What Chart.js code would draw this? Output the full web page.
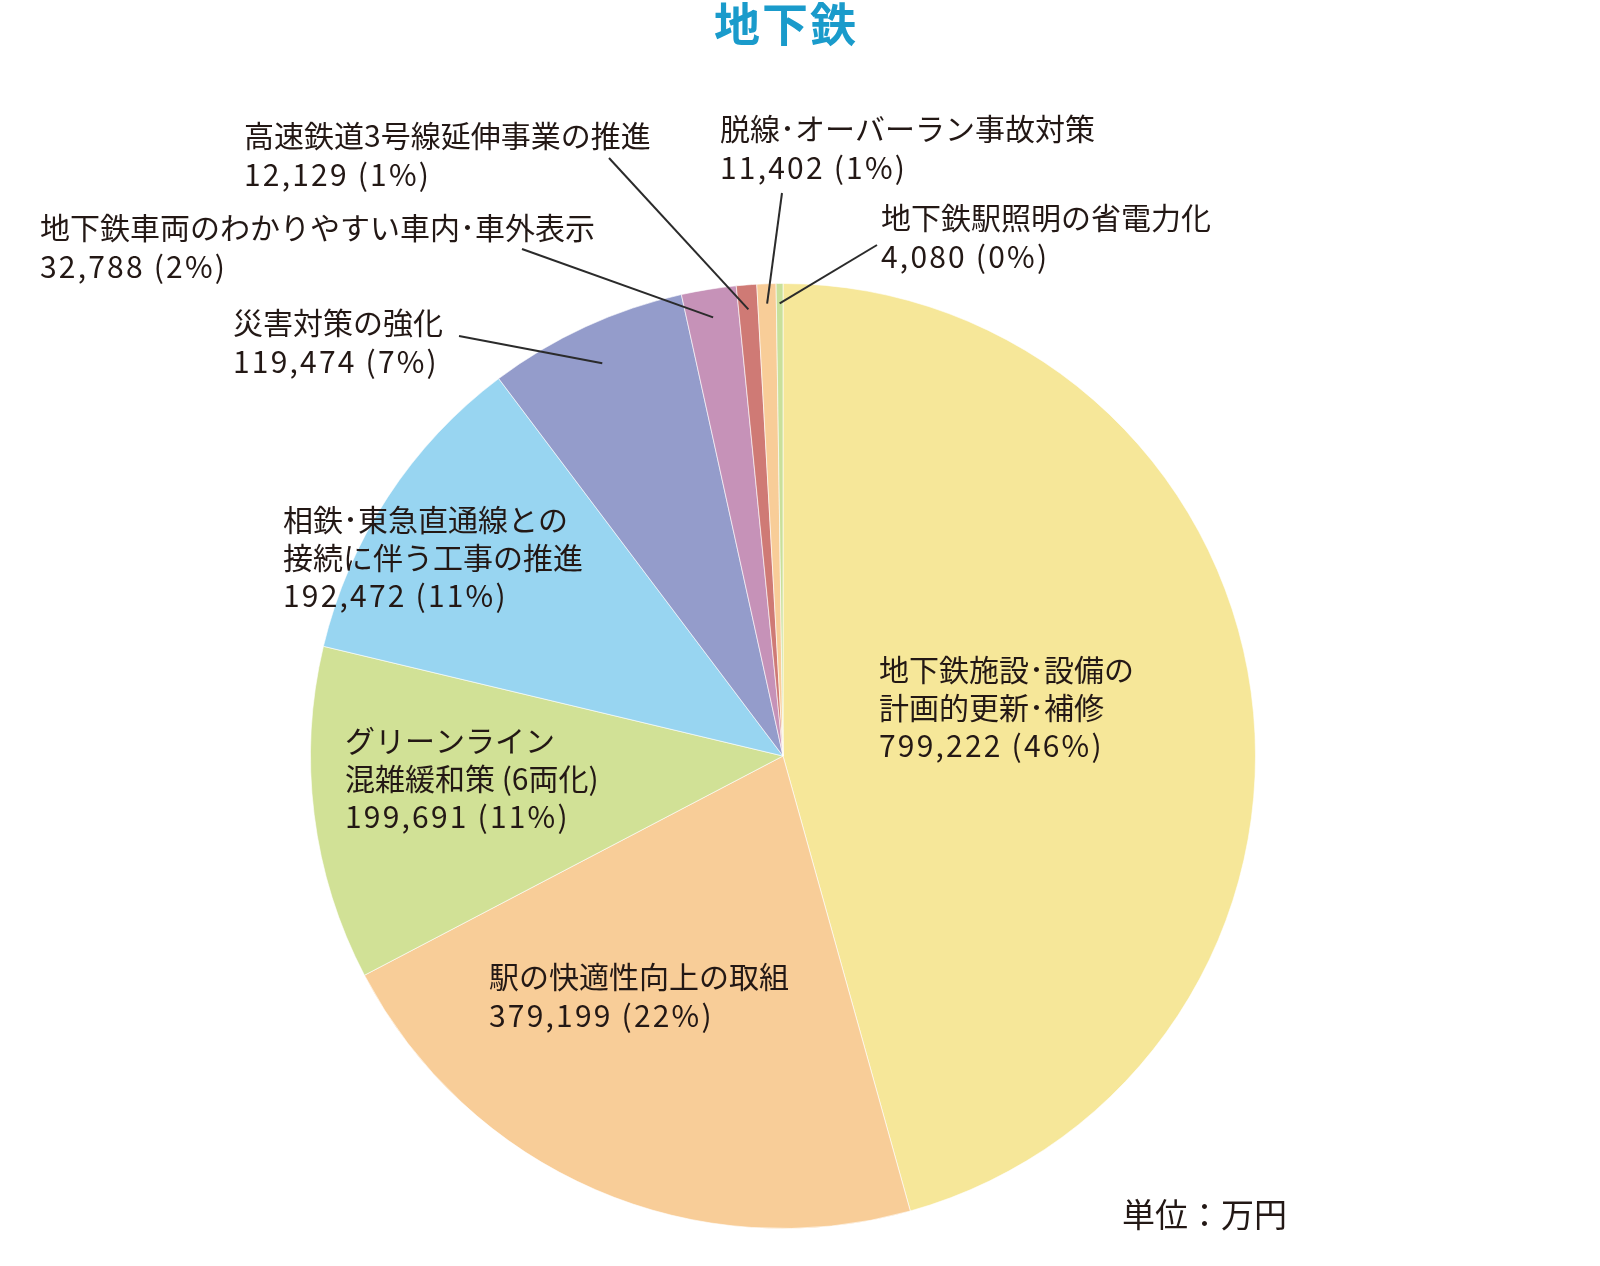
<!DOCTYPE html>
<html><head><meta charset="utf-8">
<script src="https://cdn.jsdelivr.net/npm/chart.js@4"></script>
<style>html,body{margin:0;padding:0;background:#fff;}#wrap{width:1600px;height:1266px;position:relative;}</style>
</head><body><div id="wrap"><canvas id="c" width="1600" height="1266"></canvas></div>
<script>
const categories = [
  ["地下鉄施設･設備の","計画的更新･補修"],
  ["駅の快適性向上の取組"],
  ["グリーンライン","混雑緩和策 (6両化)"],
  ["相鉄･東急直通線との","接続に伴う工事の推進"],
  ["災害対策の強化"],
  ["地下鉄車両のわかりやすい車内･車外表示"],
  ["高速鉄道3号線延伸事業の推進"],
  ["脱線･オーバーラン事故対策"],
  ["地下鉄駅照明の省電力化"]
];
const values = [799222, 379199, 199691, 192472, 119474, 32788, 12129, 11402, 4080];
const valueLabels = ["799,222","379,199","199,691","192,472","119,474","32,788","12,129","11,402","4,080"];
const percentLabels = ["46%","22%","11%","11%","7%","2%","1%","1%","0%"];
const colors = ["#F6E799","#F8CD98","#D1E196","#98D5F1","#949CCB","#C692B8","#CF7A75","#F8CD98","#C9E09A"];
const chartTitle = "地下鉄";
const unitText = "単位：万円";

// label layout: x, first line middle y, optional leader line start and radial factor for end
const labelLayout = [
  {x:879,y:670},
  {x:489,y:977},
  {x:345,y:741},
  {x:283,y:520},
  {x:233,y:323,lx:459,ly:336,rf:0.915},
  {x:40,y:228,lx:522,ly:249,rf:0.94},
  {x:244,y:136,lx:609,ly:158,rf:0.948},
  {x:720,y:129,lx:782,ly:193,rf:0.958},
  {x:881,y:218,lx:877,ly:245,rf:0.958}
];

const FONT = '"Noto Sans CJK JP", "Noto Sans", sans-serif';
const textColor = "#231815";

const labelPlugin = {
  id:'labels',
  afterDraw(chart){
    const ctx = chart.ctx;
    const meta = chart.getDatasetMeta(0);
    ctx.save();
    ctx.fillStyle = "#1A9BCB";
    ctx.font = "bold 46px " + FONT;
    ctx.letterSpacing = "2px";
    ctx.textAlign = "center";
    ctx.textBaseline = "middle";
    ctx.fillText(chartTitle, 786, 24);
    ctx.letterSpacing = "0px";
    ctx.textAlign = "left";
    ctx.fillStyle = textColor;
    ctx.strokeStyle = "#2b2b2b";
    ctx.lineWidth = 2;
    categories.forEach((lines, i) => {
      const L = labelLayout[i];
      ctx.font = "30px " + FONT;
      ctx.letterSpacing = "0px";
      lines.forEach((t, k) => {
        ctx.fillText(t, L.x, L.y + k * 37.5);
      });
      ctx.letterSpacing = "2.2px";
      ctx.fillText(valueLabels[i] + " (" + percentLabels[i] + ")", L.x, L.y + lines.length * 37.5 + 1);
      ctx.letterSpacing = "0px";
      if (L.lx !== undefined) {
        const arc = meta.data[i];
        const mid = (arc.startAngle + arc.endAngle) / 2;
        const r = arc.outerRadius * L.rf;
        ctx.beginPath();
        ctx.moveTo(L.lx, L.ly);
        ctx.lineTo(arc.x + Math.cos(mid) * r, arc.y + Math.sin(mid) * r);
        ctx.stroke();
      }
    });
    ctx.font = "33px " + FONT;
    ctx.fillText(unitText, 1122, 1214);
    ctx.restore();
  }
};

new Chart(document.getElementById('c'), {
  type:'pie',
  data:{
    labels: categories.map(c => c.join("")),
    datasets:[{
      data: values,
      backgroundColor: colors,
      borderColor: "rgba(255,255,255,0.6)",
      borderWidth: 1
    }]
  },
  options:{
    responsive:false,
    animation:false,
    devicePixelRatio:1,
    layout:{padding:{left:310,right:344,top:283,bottom:37}},
    plugins:{legend:{display:false},tooltip:{enabled:false},title:{display:false}}
  },
  plugins:[labelPlugin]
});
</script>
</body></html>
